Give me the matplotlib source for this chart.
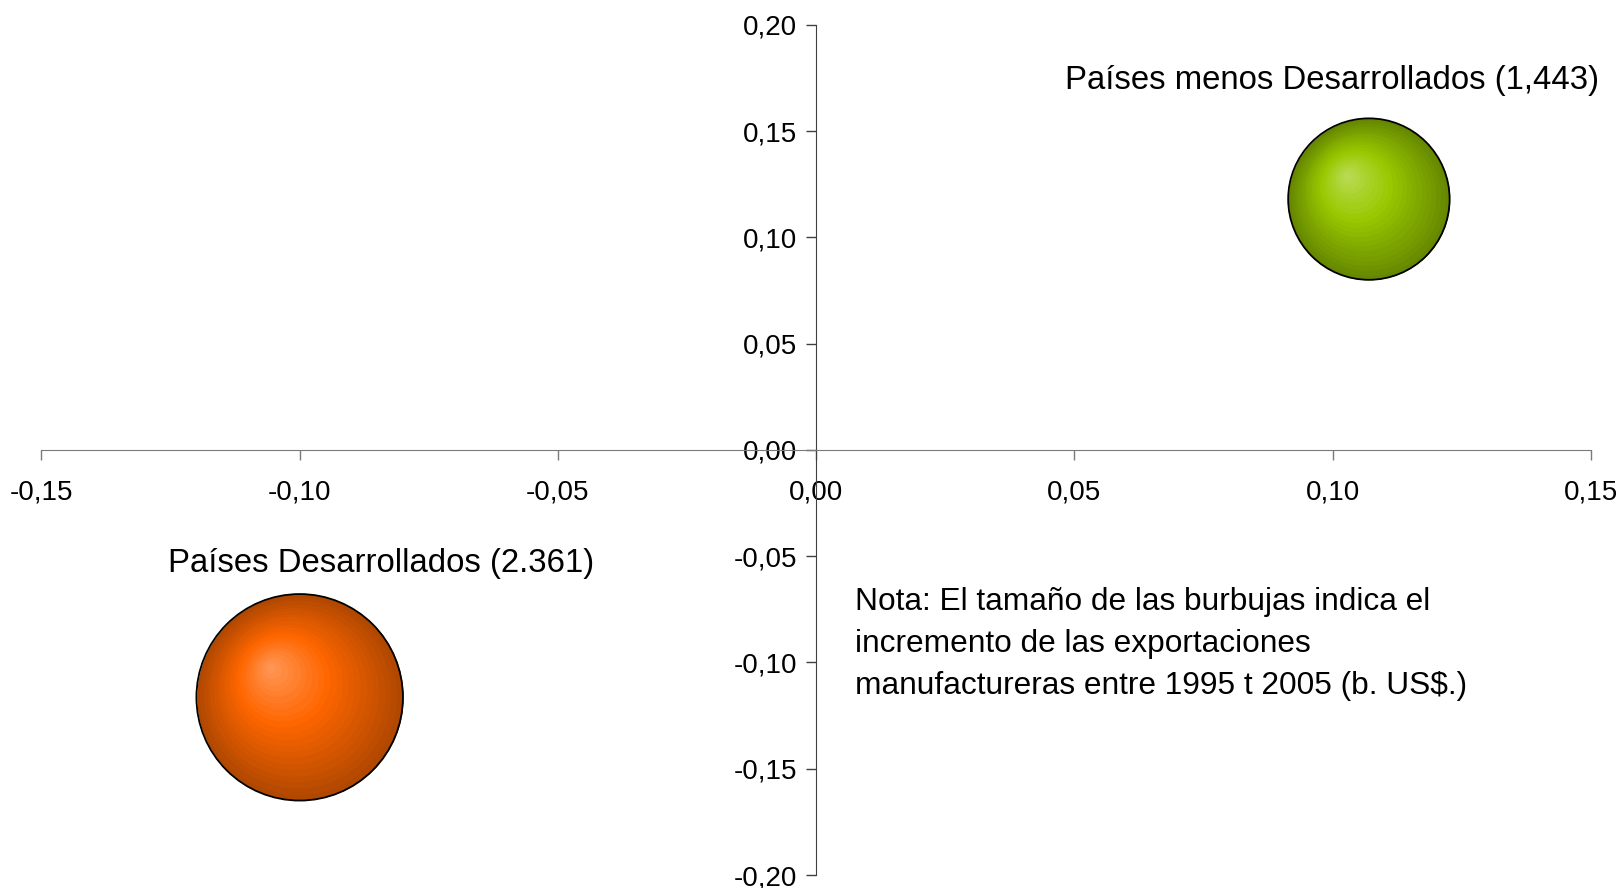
import numpy as np
import matplotlib.pyplot as plt
from matplotlib import transforms
from matplotlib.colors import to_rgb

plt.rcParams['font.family'] = ['Liberation Sans', 'DejaVu Sans']

# datos de las burbujas
grupos = ['Países Desarrollados (2.361)', 'Países menos Desarrollados (1,443)']
x_vals = [-0.100, 0.107]
y_vals = [-0.1164, 0.118]
tamanos = [2361, 1443]
# colores: borde oscuro, tono medio, brillo
colores = [('#b04800', '#ff6600', '#ff9a5c'),
           ('#668800', '#99c800', '#bcdc5a')]

nota = ['Nota: El tamaño de las burbujas indica el',
        'incremento de las exportaciones',
        'manufactureras entre 1995 t 2005 (b. US$.)']

x_ticks = [-0.15, -0.10, -0.05, 0.00, 0.05, 0.10, 0.15]
y_ticks = [-0.20, -0.15, -0.10, -0.05, 0.00, 0.05, 0.10, 0.15, 0.20]

dpi = 100
fig = plt.figure(figsize=(16.22, 8.88), dpi=dpi)
ax = fig.add_axes([41.4 / 1622, 13 / 888, 1549.6 / 1622, 850.2 / 888])
ax.set_xlim(-0.15, 0.15)
ax.set_ylim(-0.20, 0.20)

for s in ['top', 'right']:
    ax.spines[s].set_visible(False)
ax.spines['left'].set_position(('data', 0))
ax.spines['bottom'].set_position(('data', 0))
ax.spines['bottom'].set_color('#7a7a7a')
ax.spines['left'].set_color('#404040')

fmt = lambda v: f'{v:.2f}'.replace('.', ',')
ax.set_xticks(x_ticks)
ax.set_xticklabels([fmt(v) for v in x_ticks])
ax.set_yticks(y_ticks)
ax.set_yticklabels([fmt(v) for v in y_ticks])
ax.tick_params(axis='x', direction='out', length=7, width=1, color='#7a7a7a',
               labelsize=20, pad=14)
ax.tick_params(axis='y', direction='out', length=7, width=1, color='#404040',
               labelsize=20, pad=7)

k = 103.25 / np.sqrt(2361)  # pixeles de radio por raiz del tamaño


def mezcla(c1, c2, t):
    a, b = np.array(to_rgb(c1)), np.array(to_rgb(c2))
    return tuple(a + (b - a) * t)


n = 22
for xv, yv, tam, (borde, medio, brillo) in zip(x_vals, y_vals, tamanos, colores):
    r = k * np.sqrt(tam)
    off = np.array([-0.29 * r, 0.30 * r])
    for i in range(n):
        t = 1 - i / n
        if t > 0.45:
            col = mezcla(medio, borde, (t - 0.45) / 0.55)
        else:
            col = mezcla(brillo, medio, t / 0.45)
        d = (1 - t) * off
        tr = transforms.offset_copy(ax.transData, fig, x=d[0], y=d[1], units='dots')
        diam_pt = 2 * r * t * 72 / dpi
        ax.scatter([xv], [yv], s=diam_pt ** 2, color=col, lw=0, transform=tr,
                   zorder=3, clip_on=False)
    ax.scatter([xv], [yv], s=(2 * r * 72 / dpi) ** 2, facecolor='none',
               edgecolor='black', lw=1.3, zorder=4, clip_on=False)

ax.text(-0.0843, -0.0536, grupos[0], fontsize=23.7, ha='center', va='center')
ax.text(0.1515, 0.1737, grupos[1], fontsize=23.7, ha='right', va='center',
        clip_on=False)

for i, linea in enumerate(nota):
    ax.annotate(linea, xy=(0.0076, -0.0716), xytext=(0, -30.2 * i),
                textcoords='offset points', fontsize=22.8, ha='left', va='center')

fig.savefig('out.png', dpi=dpi)
